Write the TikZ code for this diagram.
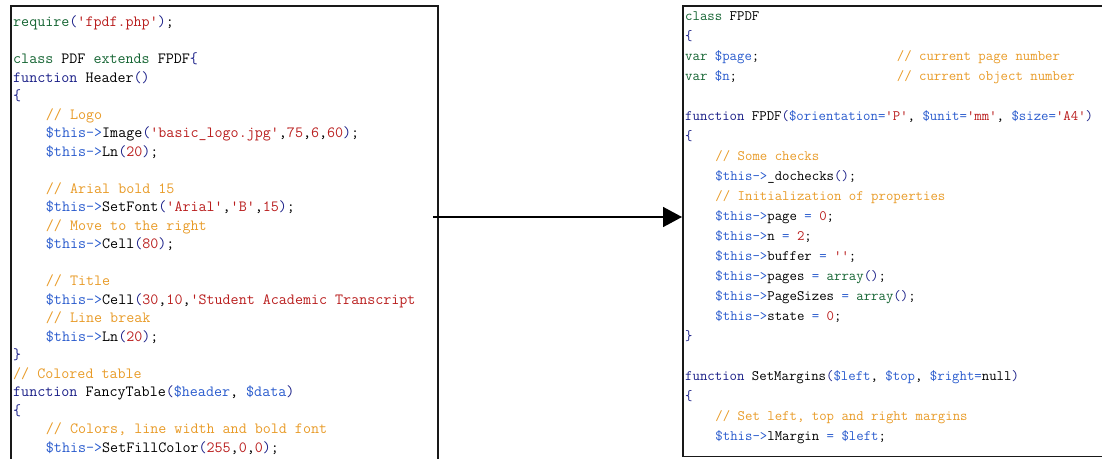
\documentclass[tikz,border=0pt]{standalone}
\usetikzlibrary{arrows.meta}

\definecolor{kwgreen}{RGB}{20,100,50}
\definecolor{fnnavy}{RGB}{25,30,135}
\definecolor{varblue}{RGB}{40,90,205}
\definecolor{strred}{RGB}{185,30,30}
\definecolor{cmtorange}{RGB}{232,155,40}
\definecolor{framegray}{RGB}{25,25,25}

\newcommand\ckw[1]{\textcolor{kwgreen}{#1}}
\newcommand\cfn[1]{\textcolor{fnnavy}{#1}}
\newcommand\cvar[1]{\textcolor{varblue}{#1}}
\newcommand\cstr[1]{\textcolor{strred}{#1}}
\newcommand\ccmt[1]{\textcolor{cmtorange}{#1}}
\newcommand\cp[1]{\textcolor{fnnavy}{#1}}
\newcommand\ceq{\textcolor{varblue}{=}}
\newcommand\cind{\hspace*{2.1em}}
\newcommand\cthis{\cvar{\$this->}}

\begin{document}
\begin{tikzpicture}[x=1pt, y=-1pt,
    frame/.style = {draw=framegray, line width=1.6pt, rectangle, inner sep=0pt, anchor=north west},
    leftline/.style = {anchor=base west, inner sep=0pt, font=\fontsize{15.6}{18.5}\selectfont\ttfamily},
    rightline/.style = {anchor=base west, inner sep=0pt, font=\fontsize{14.4}{20}\selectfont\ttfamily},
    flow/.style = {line width=1.6pt, -{Triangle[length=19pt,width=20pt]}}]
  \useasboundingbox (0,0) rectangle (1102,458);

  % the two code windows (both run past the page edge)
  \node[frame, minimum width=427pt, minimum height=520pt] (lbox) at (10,5) {};
  \node[frame, minimum width=500pt, minimum height=450.5pt] (rbox) at (682,5) {};

  % left window: the user script
  \foreach \txt [count=\i from 0] in {
      {\ckw{require}\cp{(}\cstr{'fpdf.php'}\cp{)};},
      {},
      {\ckw{class} PDF \ckw{extends} FPDF\cp{\{}},
      {\cfn{function} Header\cp{()}},
      {\cp{\{}},
      {\cind\ccmt{// Logo}},
      {\cind\cthis Image\cp{(}\cstr{'basic\_logo.jpg'},\cstr{75},\cstr{6},\cstr{60}\cp{)};},
      {\cind\cthis Ln\cp{(}\cstr{20}\cp{)};},
      {},
      {\cind\ccmt{// Arial bold 15}},
      {\cind\cthis SetFont\cp{(}\cstr{'Arial'},\cstr{'B'},\cstr{15}\cp{)};},
      {\cind\ccmt{// Move to the right}},
      {\cind\cthis Cell\cp{(}\cstr{80}\cp{)};},
      {},
      {\cind\ccmt{// Title}},
      {\cind\cthis Cell\cp{(}\cstr{30},\cstr{10},\cstr{'Student Academic Transcript}},
      {\cind\ccmt{// Line break}},
      {\cind\cthis Ln\cp{(}\cstr{20}\cp{)};},
      {\cp{\}}},
      {\ccmt{// Colored table}},
      {\cfn{function} FancyTable\cp{(}\cvar{\$header}, \cvar{\$data}\cp{)}},
      {\cp{\{}},
      {\cind\ccmt{// Colors, line width and bold font}},
      {\cind\cthis SetFillColor\cp{(}\cstr{255},\cstr{0},\cstr{0}\cp{)};}}
    \node[leftline] (l\i) at ({13},{26.5+18.52*\i}) {\txt};

  % right window: the library class
  \foreach \txt [count=\i from 0] in {
      {\ckw{class} FPDF},
      {\cp{\{}},
      {\makebox[14.7em][l]{\ckw{var} \cvar{\$page};}\ccmt{// current page number}},
      {\makebox[14.7em][l]{\ckw{var} \cvar{\$n};}\ccmt{// current object number}},
      {},
      {\cfn{function} FPDF\cp{(}\cvar{\$orientation}\ceq\cstr{'P'}, \cvar{\$unit}\ceq\cstr{'mm'}, \cvar{\$size}\ceq\cstr{'A4'}\cp{)}},
      {\cp{\{}},
      {\cind\ccmt{// Some checks}},
      {\cind\cthis\_dochecks\cp{()};},
      {\cind\ccmt{// Initialization of properties}},
      {\cind\cthis page \ceq{} \cstr{0};},
      {\cind\cthis n \ceq{} \cstr{2};},
      {\cind\cthis buffer \ceq{} \cstr{''};},
      {\cind\cthis pages \ceq{} \ckw{array}\cp{()};},
      {\cind\cthis PageSizes \ceq{} \ckw{array}\cp{()};},
      {\cind\cthis state \ceq{} \cstr{0};},
      {\cp{\}}},
      {},
      {\cfn{function} SetMargins\cp{(}\cvar{\$left}, \cvar{\$top}, \cvar{\$right}\ceq null\cp{)}},
      {\cp{\{}},
      {\cind\ccmt{// Set left, top and right margins}},
      {\cind\cthis lMargin \ceq{} \cvar{\$left};}}
    \node[rightline] (r\i) at ({685},{20.5+20*\i}) {\txt};

  \coordinate (tail) at (433,217);
  \draw[flow] (tail) -- (tail -| rbox.west);
\end{tikzpicture}
\end{document}
